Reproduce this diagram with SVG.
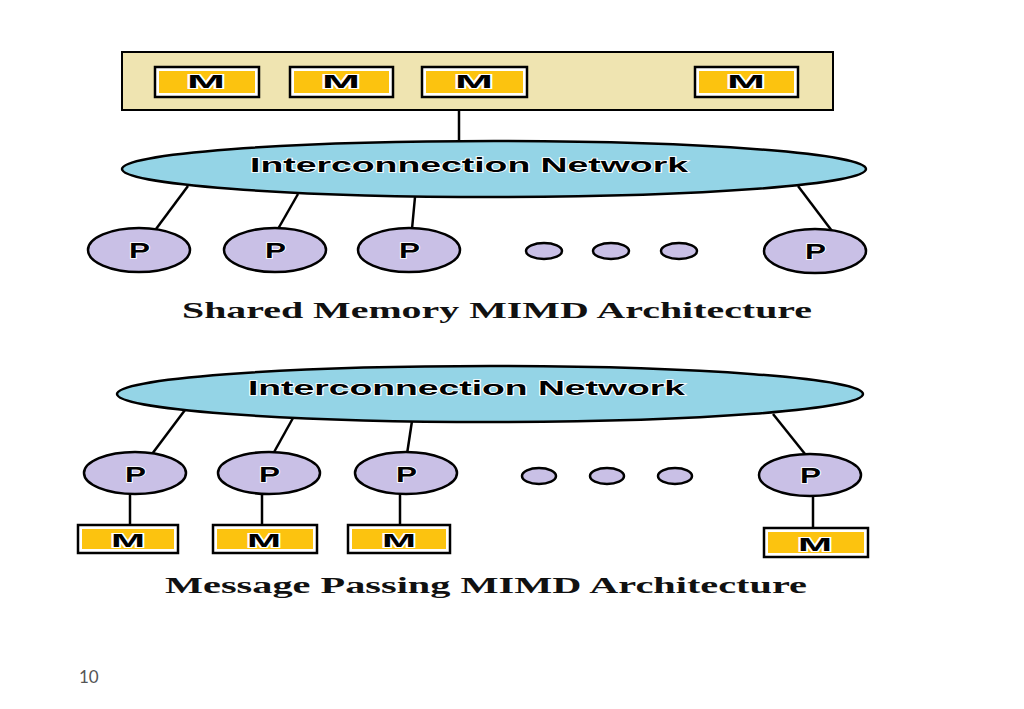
<svg xmlns="http://www.w3.org/2000/svg" width="1024" height="709" viewBox="0 0 1024 709">
<style>
.mem{fill:#ffffff;stroke:#000;stroke-width:2.5}
.memin{fill:#fcc30f}
.mt{font-family:"Liberation Sans",Arial,sans-serif;font-weight:bold;font-size:19px;fill:#000;stroke:#fff;stroke-width:2;paint-order:stroke}
.proc{fill:#c9c0e6;stroke:#000;stroke-width:2.5}
.pt{font-family:"Liberation Sans",Arial,sans-serif;font-weight:bold;font-size:22px;fill:#000;stroke:#fff;stroke-width:1.5;paint-order:stroke}
.dot{fill:#c9c0e6;stroke:#000;stroke-width:2.5}
.net{fill:#94d4e6;stroke:#000;stroke-width:2.5}
.nt{font-family:"Liberation Sans",Arial,sans-serif;font-weight:bold;font-size:21px;fill:#000;stroke:#fff;stroke-width:1.5;paint-order:stroke}
.cap{font-family:"Liberation Serif","Times New Roman",serif;font-weight:bold;font-size:23px;fill:#111}
.ln{stroke:#000;stroke-width:2.5;fill:none}
</style>

<g id="shared-memory-box">
<rect x="122" y="52" width="711" height="58" fill="#efe4b1" stroke="#000" stroke-width="2"/>
</g>
<g id="sm-m1"><rect class="mem" x="155" y="67" width="104" height="30"/><rect class="memin" x="159" y="71" width="96" height="22"/><text class="mt" x="187" y="88" textLength="38" lengthAdjust="spacingAndGlyphs">M</text></g>
<g id="sm-m2"><rect class="mem" x="290" y="67" width="103" height="30"/><rect class="memin" x="294" y="71" width="95" height="22"/><text class="mt" x="322" y="88" textLength="38" lengthAdjust="spacingAndGlyphs">M</text></g>
<g id="sm-m3"><rect class="mem" x="422" y="67" width="105" height="30"/><rect class="memin" x="426" y="71" width="97" height="22"/><text class="mt" x="455" y="88" textLength="38" lengthAdjust="spacingAndGlyphs">M</text></g>
<g id="sm-m4"><rect class="mem" x="695" y="67" width="103" height="30"/><rect class="memin" x="699" y="71" width="95" height="22"/><text class="mt" x="727" y="88" textLength="38" lengthAdjust="spacingAndGlyphs">M</text></g>

<g id="connectors">
<line class="ln" x1="459" y1="111" x2="459" y2="142"/>
<line class="ln" x1="188" y1="186" x2="156" y2="229"/>
<line class="ln" x1="298" y1="194" x2="278" y2="229"/>
<line class="ln" x1="415" y1="197" x2="412" y2="229"/>
<line class="ln" x1="798" y1="186" x2="832" y2="231"/>
<line class="ln" x1="185" y1="410" x2="152" y2="454"/>
<line class="ln" x1="293" y1="418" x2="273" y2="454"/>
<line class="ln" x1="412" y1="421" x2="407" y2="454"/>
<line class="ln" x1="773" y1="414" x2="805" y2="454"/>
<line class="ln" x1="130" y1="494" x2="130" y2="525"/>
<line class="ln" x1="262" y1="494" x2="262" y2="525"/>
<line class="ln" x1="400" y1="494" x2="400" y2="525"/>
<line class="ln" x1="813" y1="496" x2="813" y2="528"/>
</g>

<g id="network-1">
<ellipse class="net" cx="494" cy="169" rx="372" ry="28"/>
<text class="nt" x="250" y="172" textLength="438" lengthAdjust="spacingAndGlyphs">Interconnection Network</text>
</g>

<g id="sm-p1"><ellipse class="proc" cx="139" cy="250" rx="51" ry="22"/><text class="pt" x="129" y="258" textLength="21" lengthAdjust="spacingAndGlyphs">P</text></g>
<g id="sm-p2"><ellipse class="proc" cx="275" cy="250" rx="51" ry="22"/><text class="pt" x="265" y="258" textLength="21" lengthAdjust="spacingAndGlyphs">P</text></g>
<g id="sm-p3"><ellipse class="proc" cx="409" cy="250" rx="51" ry="22"/><text class="pt" x="399" y="258" textLength="21" lengthAdjust="spacingAndGlyphs">P</text></g>
<g id="sm-dots">
<ellipse class="dot" cx="544" cy="251" rx="18" ry="8"/>
<ellipse class="dot" cx="611" cy="251" rx="18" ry="8"/>
<ellipse class="dot" cx="679" cy="251" rx="18" ry="8"/>
</g>
<g id="sm-p4"><ellipse class="proc" cx="815" cy="251" rx="51" ry="22"/><text class="pt" x="805" y="259" textLength="21" lengthAdjust="spacingAndGlyphs">P</text></g>

<g id="caption-1"><text class="cap" x="182" y="318" textLength="630" lengthAdjust="spacingAndGlyphs">Shared Memory MIMD Architecture</text></g>

<g id="network-2">
<ellipse class="net" cx="490" cy="394" rx="373" ry="28"/>
<text class="nt" x="248" y="395" textLength="437" lengthAdjust="spacingAndGlyphs">Interconnection Network</text>
</g>

<g id="mp-p1"><ellipse class="proc" cx="135" cy="473" rx="51" ry="21"/><text class="pt" x="125" y="482" textLength="21" lengthAdjust="spacingAndGlyphs">P</text></g>
<g id="mp-p2"><ellipse class="proc" cx="269" cy="473" rx="51" ry="21"/><text class="pt" x="259" y="482" textLength="21" lengthAdjust="spacingAndGlyphs">P</text></g>
<g id="mp-p3"><ellipse class="proc" cx="406" cy="473" rx="51" ry="21"/><text class="pt" x="396" y="482" textLength="21" lengthAdjust="spacingAndGlyphs">P</text></g>
<g id="mp-dots">
<ellipse class="dot" cx="539" cy="476" rx="17" ry="8"/>
<ellipse class="dot" cx="607" cy="476" rx="17" ry="8"/>
<ellipse class="dot" cx="675" cy="476" rx="17" ry="8"/>
</g>
<g id="mp-p4"><ellipse class="proc" cx="810" cy="475" rx="51" ry="21"/><text class="pt" x="800" y="483" textLength="21" lengthAdjust="spacingAndGlyphs">P</text></g>

<g id="mp-m1"><rect class="mem" x="78" y="525" width="100" height="28"/><rect class="memin" x="82" y="529" width="92" height="20"/><text class="mt" x="111" y="547" textLength="34" lengthAdjust="spacingAndGlyphs">M</text></g>
<g id="mp-m2"><rect class="mem" x="213" y="525" width="104" height="28"/><rect class="memin" x="217" y="529" width="96" height="20"/><text class="mt" x="247" y="547" textLength="34" lengthAdjust="spacingAndGlyphs">M</text></g>
<g id="mp-m3"><rect class="mem" x="348" y="525" width="102" height="28"/><rect class="memin" x="352" y="529" width="94" height="20"/><text class="mt" x="382" y="547" textLength="34" lengthAdjust="spacingAndGlyphs">M</text></g>
<g id="mp-m4"><rect class="mem" x="764" y="528" width="104" height="29"/><rect class="memin" x="768" y="532" width="96" height="21"/><text class="mt" x="798" y="551" textLength="34" lengthAdjust="spacingAndGlyphs">M</text></g>

<g id="caption-2"><text class="cap" x="165" y="593" textLength="642" lengthAdjust="spacingAndGlyphs">Message Passing MIMD Architecture</text></g>

<text x="79" y="683" font-family="Lato, 'Open Sans', sans-serif" font-size="17" fill="#555">10</text>
</svg>
